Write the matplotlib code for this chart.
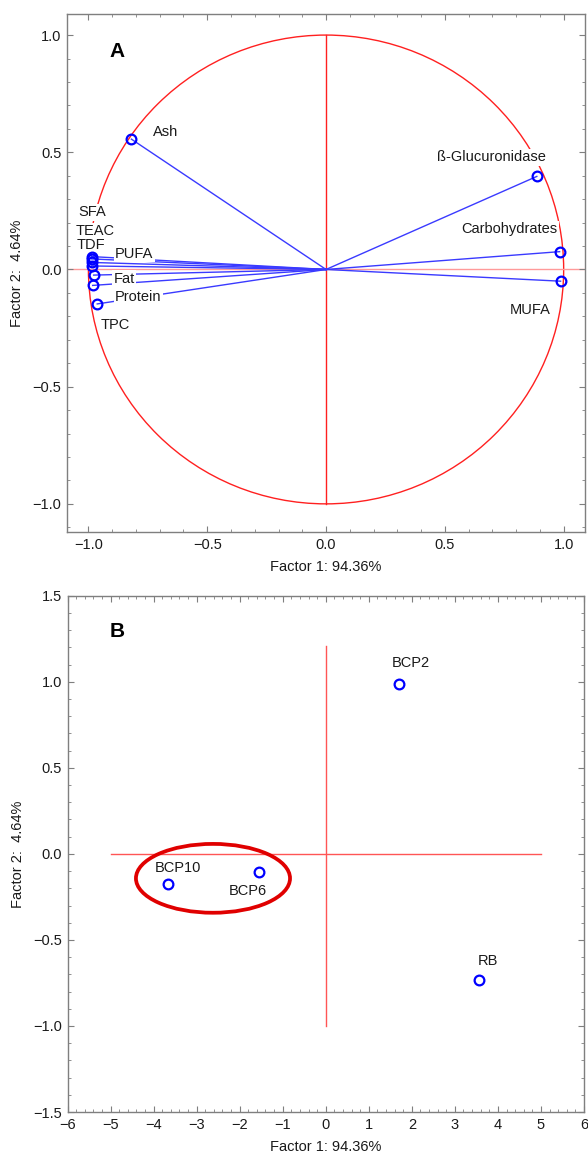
import numpy as np
import matplotlib
matplotlib.use("Agg")
import matplotlib.pyplot as plt
from matplotlib.patches import Circle, Ellipse
from matplotlib.ticker import MultipleLocator

plt.rcParams['font.family'] = ['Liberation Sans', 'DejaVu Sans']

# ---------------- data ----------------
variables = ["Ash", "ß-Glucuronidase", "Carbohydrates", "MUFA", "SFA", "TEAC",
             "TDF", "PUFA", "Fat", "Protein", "TPC"]
factor1_loadings = [-0.819, 0.887, 0.983, 0.987, -0.987, -0.987, -0.987, -0.987,
                    -0.978, -0.982, -0.963]
factor2_loadings = [0.556, 0.397, 0.076, -0.050, 0.055, 0.045, 0.030, 0.015,
                    -0.024, -0.068, -0.147]

samples = ["BCP2", "RB", "BCP10", "BCP6"]
factor1_scores = [1.70, 3.56, -3.67, -1.55]
factor2_scores = [0.99, -0.73, -0.173, -0.106]

xlabel_txt = "Factor 1: 94.36%"
ylabel_txt = "Factor 2:  4.64%"

# label placement (layout only)
var_label_xy = [(-0.674, 0.587), (0.695, 0.479), (0.772, 0.171), (0.857, -0.171),
                (-0.985, 0.244), (-0.973, 0.162), (-0.988, 0.103), (-0.807, 0.067),
                (-0.850, -0.040), (-0.790, -0.118), (-0.887, -0.239)]
sample_label_xy = [(1.54, 1.11), (3.54, -0.62), (-3.98, -0.08), (-2.26, -0.216)]

BLUE = '#0000ff'
LINEBLUE = '#3a3aff'
RED = '#ff2020'
SPINE = '#7f7f7f'
TXT = '#1a1a1a'

fig = plt.figure(figsize=(5.88, 11.55), dpi=100)
axA = fig.add_axes([0.114, 0.5394, 0.881, 0.4485])
axB = fig.add_axes([0.1148, 0.0372, 0.8784, 0.447])


def style_axes(ax):
    for s in ax.spines.values():
        s.set_color(SPINE)
        s.set_linewidth(1.0)
    ax.tick_params(which='both', direction='in', top=True, right=True,
                   color=SPINE, labelsize=10.5, labelcolor=TXT)
    ax.tick_params(which='major', length=4, width=0.8, pad=4)
    ax.tick_params(which='minor', length=2, width=0.6)
    ax.set_xlabel(xlabel_txt, fontsize=10.5, color=TXT, labelpad=6)
    ax.set_ylabel(ylabel_txt, fontsize=10.5, color=TXT, labelpad=6)


# ---------------- panel A ----------------
axA.add_patch(Circle((0, 0), 1.0, fill=False, ec=RED, lw=1.0, zorder=1))
axA.plot([0, 0], [-1, 1], color=RED, lw=1.0, zorder=1)
axA.axhline(0, color='#ff9a9a', lw=1.0, zorder=1)
for x, y in zip(factor1_loadings, factor2_loadings):
    axA.plot([0, x], [0, y], color=LINEBLUE, lw=1.0, zorder=2)
axA.plot(factor1_loadings, factor2_loadings, 'o', ms=7, mfc='none', mec=BLUE,
         mew=1.6, zorder=4)
for name, (lx, ly) in zip(variables, var_label_xy):
    axA.text(lx, ly, name, ha='center', va='center', fontsize=10.5, color=TXT,
             zorder=3, bbox=dict(boxstyle='square,pad=0.1', fc='white', ec='none'))
axA.text(-0.878, 0.93, "A", fontsize=15, fontweight='bold', ha='center',
         va='center')
axA.set_xlim(-1.09, 1.09)
axA.set_ylim(-1.12, 1.09)
axA.xaxis.set_major_locator(MultipleLocator(0.5))
axA.yaxis.set_major_locator(MultipleLocator(0.5))
axA.xaxis.set_minor_locator(MultipleLocator(0.1))
axA.yaxis.set_minor_locator(MultipleLocator(0.1))
style_axes(axA)

# ---------------- panel B ----------------
axB.plot([0, 0], [-1.0, 1.21], color='#ff5555', lw=1.0, zorder=1)
axB.plot([-5, 5], [0, 0], color='#ff5555', lw=1.0, zorder=1)
axB.plot(factor1_scores, factor2_scores, 'o', ms=7, mfc='none', mec=BLUE,
         mew=1.6, zorder=4)
for name, (lx, ly) in zip(samples, sample_label_xy):
    axB.text(lx, ly, name, ha='left', va='center', fontsize=10.5, color=TXT)
axB.add_patch(Ellipse((-2.62, -0.142), 3.58, 0.40, fill=False, ec='#e00000',
                      lw=2.7, zorder=3))
axB.text(-4.85, 1.29, "B", fontsize=15, fontweight='bold', ha='center',
         va='center')
axB.set_xlim(-6, 6)
axB.set_ylim(-1.5, 1.5)
axB.xaxis.set_major_locator(MultipleLocator(1))
axB.yaxis.set_major_locator(MultipleLocator(0.5))
axB.xaxis.set_minor_locator(MultipleLocator(0.2))
axB.yaxis.set_minor_locator(MultipleLocator(0.1))
style_axes(axB)

fig.savefig("out.png", dpi=100)
